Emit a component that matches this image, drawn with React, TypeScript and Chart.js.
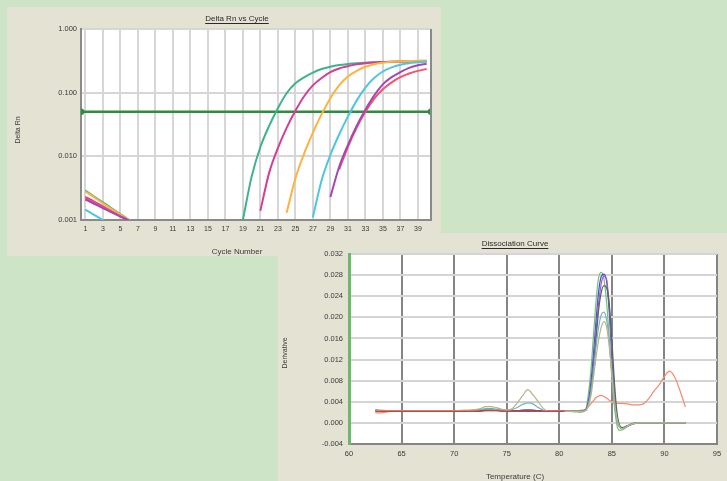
import React, { useEffect, useRef } from "react";
import { Chart, registerables } from "chart.js";

Chart.register(...registerables);

const FONT = "'Liberation Sans', Arial, sans-serif";
const N = null;

// ---------------- Panel 1: Delta Rn vs Cycle ----------------
const cycles = [
  1, 2, 3, 4, 5, 6, 7, 8, 9, 10, 11, 12, 13, 14, 15, 16, 17, 18, 19, 20,
  21, 22, 23, 24, 25, 26, 27, 28, 29, 30, 31, 32, 33, 34, 35, 36, 37, 38, 39, 40,
];
const cycleTickValues = [1, 3, 5, 7, 9, 11, 13, 15, 17, 19, 21, 23, 25, 27, 29, 31, 33, 35, 37, 39];
const rnTickValues = [0.001, 0.01, 0.1, 1];
const thresholdRn = 0.05;

const greenRn = [
  0.0029, 0.00234, 0.0019, 0.00153, 0.00124, 0.001, 0.00081,
  N, N, N, N, N, N, N, N, N, N, N,
  0.001, 0.0048, 0.014, 0.03, 0.057, 0.098, 0.14, 0.174, 0.206, 0.235, 0.256,
  0.272, 0.282, 0.29, 0.296, 0.3, 0.303, 0.306, 0.308, 0.31, 0.311, 0.312,
];
const magentaRn = [
  0.0023, 0.00195, 0.00164, 0.00138, 0.00117, 0.00099, 0.00083,
  N, N, N, N, N, N, N, N, N, N, N, N, N,
  0.0014, 0.0055, 0.0135, 0.028, 0.052, 0.088, 0.13, 0.17, 0.21, 0.24,
  0.26, 0.28, 0.29, 0.297, 0.302, 0.305, 0.307, 0.309, 0.31, 0.311,
];
const orangeRn = [
  0.0028, 0.00228, 0.00183, 0.00149, 0.00122, 0.00099, 0.0008,
  N, N, N, N, N, N, N, N, N, N, N, N, N, N, N, N,
  0.0013, 0.0045, 0.011, 0.0235, 0.046, 0.082, 0.13, 0.18, 0.22,
  0.255, 0.28, 0.295, 0.305, 0.31, 0.315, 0.318, 0.32,
];
const cyanRn = [
  0.00145, 0.0012, 0.001, 0.00083,
  N, N, N, N, N, N, N, N, N, N, N, N, N, N, N, N, N, N, N, N, N, N,
  0.0011, 0.0042, 0.0105, 0.022, 0.042, 0.075, 0.12, 0.17, 0.215, 0.25, 0.275, 0.29, 0.3, 0.31,
];
const purpleRn = [
  0.0021, 0.0018, 0.00154, 0.00132, 0.00113, 0.00097, 0.00083,
  N, N, N, N, N, N, N, N, N, N, N, N, N, N, N, N, N, N, N, N, N,
  0.0023, 0.0068, 0.015, 0.03, 0.054, 0.09, 0.135, 0.175, 0.21, 0.245, 0.27, 0.285,
];
const redRn = [
  0.0022, 0.00187, 0.00159, 0.00135, 0.00115, 0.00098, 0.00083,
  N, N, N, N, N, N, N, N, N, N, N, N, N, N, N, N, N, N, N, N, N, N,
  0.0062, 0.014, 0.028, 0.05, 0.08, 0.113, 0.145, 0.175, 0.2, 0.22, 0.235,
];

// ---------------- Panel 2: Dissociation Curve ----------------
const temps = [
  62.5, 63, 64, 65, 66, 67, 68, 69, 70, 71, 72,
  72.5, 73, 73.5, 74, 74.5, 75, 75.5, 76, 76.5, 77, 77.5, 78, 78.5, 79, 79.5, 80, 80.5, 81, 81.5, 82, 82.5,
  82.75, 83, 83.25, 83.5, 83.75, 84, 84.25, 84.5, 84.75, 85, 85.25, 85.5, 85.75, 86,
  86.5, 87, 87.5, 88, 88.5, 89, 89.5, 90, 90.5, 91, 91.5, 92,
];
const tempTickValues = [60, 65, 70, 75, 80, 85, 90, 95];
const derivTickValues = [-0.004, 0, 0.004, 0.008, 0.012, 0.016, 0.02, 0.024, 0.028, 0.032];

const greenDeriv = [
  0.0025, 0.0024, 0.0023, 0.0023, 0.0023, 0.0023, 0.0023, 0.0023, 0.0023, 0.0023, 0.0024,
  0.0025, 0.0027, 0.0027, 0.0026, 0.0025, 0.0024, 0.0023, 0.0023, 0.0024, 0.0025, 0.0024, 0.0023, 0.0022, 0.0022, 0.0022, 0.0022, 0.0022, 0.0022, 0.0021, 0.002, 0.0024,
  0.0052, 0.0098, 0.0165, 0.0232, 0.0276, 0.0285, 0.0272, 0.0228, 0.016, 0.0085, 0.003, -0.0006, -0.0014, -0.0013,
  -0.0007, -0.0002, 0, 0, 0, 0, 0, 0, 0, 0, 0, 0,
];
const blueDeriv = [
  0.0024, 0.0023, 0.0023, 0.0023, 0.0023, 0.0023, 0.0023, 0.0023, 0.0023, 0.0023, 0.0023,
  0.0024, 0.0025, 0.0025, 0.0024, 0.0023, 0.0023, 0.0023, 0.0023, 0.0024, 0.0024, 0.0024, 0.0023, 0.0022, 0.0022, 0.0022, 0.0022, 0.0022, 0.0022, 0.0022, 0.0022, 0.0025,
  0.004, 0.0075, 0.013, 0.0195, 0.025, 0.0278, 0.0282, 0.0268, 0.021, 0.0125, 0.005, 0.0005, -0.0008, -0.001,
  -0.0006, -0.0002, 0, 0, 0, 0, 0, 0, 0, 0, 0, 0,
];
const purpleDeriv = [
  0.0023, 0.0023, 0.0023, 0.0023, 0.0023, 0.0023, 0.0023, 0.0023, 0.0023, 0.0023, 0.0023,
  0.0024, 0.0025, 0.0026, 0.0025, 0.0024, 0.0023, 0.0023, 0.0022, 0.0022, 0.0022, 0.0022, 0.0022, 0.0022, 0.0022, 0.0022, 0.0022, 0.0022, 0.0022, 0.0022, 0.0022, 0.0024,
  0.0035, 0.0062, 0.011, 0.0175, 0.0228, 0.0265, 0.0278, 0.0272, 0.0222, 0.014, 0.0058, 0.0008, -0.0007, -0.001,
  -0.0006, -0.0002, 0, 0, 0, 0, 0, 0, 0, 0, 0, 0,
];
const cyanDeriv = [
  0.0024, 0.0023, 0.0023, 0.0023, 0.0023, 0.0023, 0.0023, 0.0023, 0.0023, 0.0023, 0.0024,
  0.0025, 0.0026, 0.0026, 0.0025, 0.0024, 0.0024, 0.0025, 0.0029, 0.0035, 0.0038, 0.0036, 0.0029, 0.0024, 0.0022, 0.0022, 0.0022, 0.0022, 0.0022, 0.0022, 0.0022, 0.0024,
  0.0034, 0.0058, 0.0098, 0.0145, 0.0183, 0.0205, 0.021, 0.0195, 0.0155, 0.0095, 0.0035, 0.0002, -0.0009, -0.0011,
  -0.0006, -0.0002, 0, 0, 0, 0, 0, 0, 0, 0, 0, 0,
];
const oliveDeriv = [
  0.0024, 0.0023, 0.0023, 0.0023, 0.0023, 0.0023, 0.0023, 0.0023, 0.0023, 0.0024, 0.0025,
  0.0027, 0.0031, 0.0031, 0.0029, 0.0026, 0.0024, 0.0027, 0.0038, 0.0051, 0.0063, 0.0053, 0.004, 0.0027, 0.0022, 0.0022, 0.0022, 0.0022, 0.0022, 0.0022, 0.0022, 0.0023,
  0.0031, 0.005, 0.0085, 0.0125, 0.0158, 0.0182, 0.0192, 0.0182, 0.0145, 0.0095, 0.004, 0.0007, -0.0008, -0.0011,
  -0.0006, -0.0002, 0, 0, 0, 0, 0, 0, 0, 0, 0, 0,
];
const darkDeriv = [
  0.0023, 0.0023, 0.0023, 0.0023, 0.0023, 0.0023, 0.0023, 0.0023, 0.0023, 0.0023, 0.0023,
  0.0023, 0.0024, 0.0024, 0.0024, 0.0023, 0.0023, 0.0023, 0.0023, 0.0023, 0.0023, 0.0023, 0.0023, 0.0022, 0.0022, 0.0022, 0.0022, 0.0022, 0.0022, 0.0022, 0.0022, 0.0024,
  0.0035, 0.006, 0.0105, 0.016, 0.0215, 0.0248, 0.026, 0.0256, 0.0225, 0.0158, 0.0075, 0.0018, -0.0005, -0.0009,
  -0.0005, -0.0001, 0, 0, 0, 0, 0, 0, 0, 0, 0, 0,
];
const redDeriv = [
  0.0022, 0.0022, 0.0022, 0.0022, 0.0022, 0.0022, 0.0022, 0.0022, 0.0022, 0.0022, 0.0022,
  0.0022, 0.0023, 0.0023, 0.0023, 0.0022, 0.0022, 0.0022, 0.0022, 0.0022, 0.0022, 0.0022, 0.0022, 0.0022, 0.0022, 0.0022, 0.0022, 0.0022, N, N, N, N,
  N, N, N, N, N, N, N, N, N, N, N, N, N, N,
  N, N, N, N, N, N, N, N, N, N, N, N,
];
const salmonDeriv = [
  0.0019, 0.0019, 0.0022, 0.0022, 0.0022, 0.0022, 0.0022, 0.0022, 0.0022, 0.0022, 0.0022,
  0.0022, 0.0023, 0.0023, 0.0023, 0.0023, 0.0023, 0.0023, 0.0023, 0.0023, 0.0023, 0.0023, 0.0023, 0.0023, 0.0023, 0.0023, 0.0023, 0.0023, 0.0023, 0.0023, 0.0024, 0.0026,
  0.003, 0.0036, 0.0042, 0.0048, 0.0051, 0.0052, 0.005, 0.0047, 0.0043, 0.004, 0.0038, 0.0037, 0.0037, 0.0037,
  0.0036, 0.0034, 0.0034, 0.0036, 0.0046, 0.006, 0.0072, 0.0088, 0.0098, 0.0086, 0.006, 0.003,
];

// ---------------- helpers ----------------
type TextCfg = {
  title: string; titleX: number; titleY: number;
  xTitle: string; xTitleX: number; xTitleY: number;
  yTitle: string; yTitleX: number; yTitleY: number;
  rightBorder?: string;
};

function makeDecor(cfg: TextCfg) {
  return {
    id: "decor",
    beforeDraw(chart: any) {
      const { ctx, chartArea: a } = chart;
      ctx.save();
      ctx.fillStyle = "#ffffff";
      ctx.fillRect(a.left, a.top, a.right - a.left, a.bottom - a.top);
      ctx.restore();
    },
    afterDraw(chart: any) {
      const { ctx, chartArea: a } = chart;
      ctx.save();
      if (cfg.rightBorder) {
        ctx.strokeStyle = cfg.rightBorder;
        ctx.lineWidth = 2;
        ctx.beginPath();
        ctx.moveTo(a.right, a.top);
        ctx.lineTo(a.right, a.bottom + 1);
        ctx.stroke();
      }
      ctx.fillStyle = "#2a2a2a";
      ctx.textAlign = "center";
      ctx.textBaseline = "middle";
      ctx.font = `8px ${FONT}`;
      ctx.fillText(cfg.title, cfg.titleX, cfg.titleY);
      const w = ctx.measureText(cfg.title).width;
      ctx.strokeStyle = "#2a2a2a";
      ctx.lineWidth = 1;
      ctx.beginPath();
      ctx.moveTo(cfg.titleX - w / 2, cfg.titleY + 4.5);
      ctx.lineTo(cfg.titleX + w / 2, cfg.titleY + 4.5);
      ctx.stroke();
      ctx.fillStyle = "#3a3a3a";
      ctx.font = `8px ${FONT}`;
      ctx.fillText(cfg.xTitle, cfg.xTitleX, cfg.xTitleY);
      ctx.translate(cfg.yTitleX, cfg.yTitleY);
      ctx.rotate(-Math.PI / 2);
      ctx.font = `7px ${FONT}`;
      ctx.fillText(cfg.yTitle, 0, 0);
      ctx.restore();
    },
  };
}

const pts = (xs: number[], ys: (number | null)[]) => xs.map((x, i) => ({ x, y: ys[i] }));

function ChartCanvas({ width, height, build }: { width: number; height: number; build: (c: HTMLCanvasElement) => Chart }) {
  const ref = useRef<HTMLCanvasElement | null>(null);
  useEffect(() => {
    if (!ref.current) return;
    const chart = build(ref.current);
    return () => chart.destroy();
  }, []);
  return <canvas ref={ref} width={width} height={height} style={{ display: "block", width, height }} />;
}

function buildAmplification(canvas: HTMLCanvasElement) {
  const series = [
    { data: cyanRn, color: "#4ec6e0" },
    { data: purpleRn, color: "#a346b6" },
    { data: redRn, color: "#f0566e" },
    { data: orangeRn, color: "#ffb23c" },
    { data: magentaRn, color: "#d63c98" },
    { data: greenRn, color: "#3db38c" },
  ];
  const datasets: any[] = series.map((s) => ({
    data: pts(cycles, s.data),
    borderColor: s.color,
    borderWidth: 2,
    pointRadius: 0,
    fill: false,
    spanGaps: false,
    cubicInterpolationMode: "monotone",
  }));
  datasets.push({
    data: [{ x: 0.5, y: thresholdRn }, { x: 40.5, y: thresholdRn }],
    borderColor: "#2f8c3f",
    backgroundColor: "#2f8c3f",
    borderWidth: 2.5,
    pointRadius: 2,
    fill: false,
  });
  return new Chart(canvas, {
    type: "line",
    data: { datasets },
    options: {
      responsive: false,
      animation: false,
      events: [],
      layout: { padding: { top: 22, right: 10, left: 0, bottom: 0 } },
      plugins: { legend: { display: false }, tooltip: { enabled: false }, title: { display: false } },
      scales: {
        x: {
          type: "linear",
          min: 0.5,
          max: 40.5,
          afterBuildTicks: (s: any) => { s.ticks = cycleTickValues.map((v) => ({ value: v })); },
          afterFit: (s: any) => { s.height = 36; },
          grid: { color: "#d6d6d6", lineWidth: 2, drawTicks: false },
          border: { display: true, color: "#8a8a8a", width: 2 },
          ticks: { padding: 5, color: "#3a3a3a", font: { family: FONT, size: 7 }, autoSkip: false, maxRotation: 0, callback: (v: any) => String(v) },
        },
        y: {
          type: "logarithmic",
          min: 0.001,
          max: 1,
          afterBuildTicks: (s: any) => { s.ticks = rnTickValues.map((v) => ({ value: v })); },
          afterFit: (s: any) => { s.width = 74; },
          grid: { color: (c: any) => (c.tick && c.tick.value === 0.001 ? "rgba(0,0,0,0)" : "#d6d6d6"), lineWidth: 2, drawTicks: false },
          border: { display: true, color: "#8a8a8a", width: 2 },
          ticks: { padding: 4, color: "#3a3a3a", font: { family: FONT, size: 7.5 }, callback: (v: any) => Number(v).toFixed(3) },
        },
      },
    } as any,
    plugins: [
      makeDecor({
        title: "Delta Rn vs Cycle", titleX: 230, titleY: 12,
        xTitle: "Cycle Number", xTitleX: 230, xTitleY: 245,
        yTitle: "Delta Rn", yTitleX: 11, yTitleY: 123,
        rightBorder: "#8a8a8a",
      }) as any,
    ],
  });
}

function buildDissociation(canvas: HTMLCanvasElement) {
  const series = [
    { data: redDeriv, color: "#d83a3a" },
    { data: oliveDeriv, color: "#b9b483" },
    { data: cyanDeriv, color: "#72b3c4" },
    { data: darkDeriv, color: "#50695a" },
    { data: purpleDeriv, color: "#9a5ccf" },
    { data: blueDeriv, color: "#4848d6" },
    { data: greenDeriv, color: "#74c274" },
    { data: salmonDeriv, color: "#f48a6e" },
  ];
  const datasets: any[] = series.map((s) => ({
    data: pts(temps, s.data),
    borderColor: s.color,
    borderWidth: 1.2,
    pointRadius: 0,
    fill: false,
    spanGaps: false,
    cubicInterpolationMode: "monotone",
  }));
  return new Chart(canvas, {
    type: "line",
    data: { datasets },
    options: {
      responsive: false,
      animation: false,
      events: [],
      layout: { padding: { top: 21, right: 10, left: 0, bottom: 0 } },
      plugins: { legend: { display: false }, tooltip: { enabled: false }, title: { display: false } },
      scales: {
        x: {
          type: "linear",
          min: 60,
          max: 95,
          afterBuildTicks: (s: any) => { s.ticks = tempTickValues.map((v) => ({ value: v })); },
          afterFit: (s: any) => { s.height = 37; },
          grid: { color: (c: any) => (c.tick && c.tick.value === 60 ? "rgba(0,0,0,0)" : "#858585"), lineWidth: 2, drawTicks: false },
          border: { display: true, color: "#858585", width: 2 },
          ticks: { padding: 5, color: "#3a3a3a", font: { family: FONT, size: 7.5 }, autoSkip: false, maxRotation: 0, callback: (v: any) => String(v) },
        },
        y: {
          type: "linear",
          min: -0.004,
          max: 0.032,
          afterBuildTicks: (s: any) => { s.ticks = derivTickValues.map((v) => ({ value: v })); },
          afterFit: (s: any) => { s.width = 71; },
          grid: { color: (c: any) => (c.tick && c.tick.value === -0.004 ? "rgba(0,0,0,0)" : "#d4d4d4"), lineWidth: 2, drawTicks: false },
          border: { display: true, color: "#6cb86c", width: 3 },
          ticks: { padding: 6, color: "#3a3a3a", font: { family: FONT, size: 7.5 }, callback: (v: any) => Number(v).toFixed(3) },
        },
      },
    } as any,
    plugins: [
      makeDecor({
        title: "Dissociation Curve", titleX: 237, titleY: 11,
        xTitle: "Temperature (C)", xTitleX: 237, xTitleY: 244,
        yTitle: "Derivative", yTitleX: 7, yTitleY: 120,
      }) as any,
    ],
  });
}

export default function App() {
  return (
    <div style={{ position: "absolute", left: 0, top: 0, width: 727, height: 481, background: "#cde5c6", overflow: "hidden" }}>
      <div style={{ position: "absolute", left: 7, top: 7, width: 434, height: 249, background: "#e4e2d2" }}>
        <ChartCanvas width={434} height={249} build={buildAmplification} />
      </div>
      <div style={{ position: "absolute", left: 278, top: 233, width: 449, height: 248, background: "#e4e2d2" }}>
        <ChartCanvas width={449} height={248} build={buildDissociation} />
      </div>
    </div>
  );
}
